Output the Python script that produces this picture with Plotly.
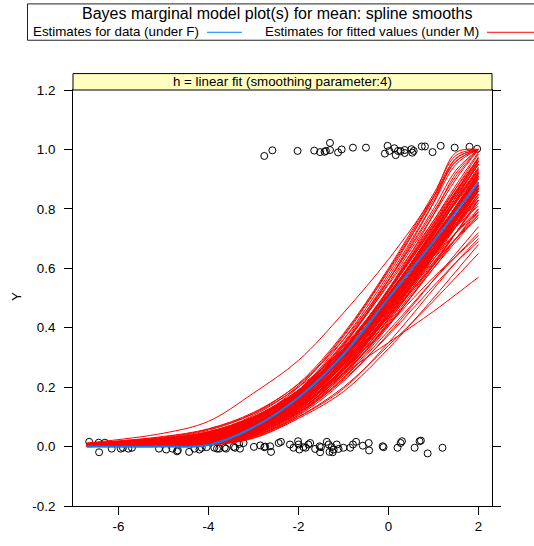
import plotly.graph_objects as go

# ---------------- data ----------------
X_KNOTS = [-6.7, -5, -4, -3, -2, -1, 0, 1, 1.5, 2]

RED_CURVES = [
    [0.000, 0.002, 0.005, 0.045, 0.135, 0.280, 0.470, 0.700, 0.830, 0.960],
    [0.002, 0.008, 0.018, 0.065, 0.155, 0.300, 0.490, 0.700, 0.810, 0.920],
    [0.005, 0.015, 0.030, 0.080, 0.170, 0.310, 0.490, 0.680, 0.780, 0.880],
    [0.008, 0.025, 0.045, 0.100, 0.190, 0.320, 0.490, 0.660, 0.750, 0.830],
    [0.010, 0.030, 0.055, 0.110, 0.200, 0.330, 0.500, 0.660, 0.740, 0.810],
    [0.000, 0.003, 0.008, 0.040, 0.115, 0.240, 0.410, 0.600, 0.700, 0.800],
    [0.001, 0.005, 0.012, 0.050, 0.130, 0.260, 0.440, 0.640, 0.750, 0.860],
    [0.003, 0.010, 0.022, 0.070, 0.160, 0.310, 0.510, 0.730, 0.850, 0.960],
    [0.004, 0.012, 0.025, 0.075, 0.175, 0.340, 0.550, 0.780, 0.900, 1.000],
    [0.006, 0.020, 0.040, 0.095, 0.200, 0.370, 0.590, 0.830, 0.960, 1.000],
    [0.002, 0.007, 0.015, 0.055, 0.140, 0.280, 0.460, 0.660, 0.760, 0.860],
    [0.000, 0.002, 0.006, 0.038, 0.120, 0.250, 0.430, 0.630, 0.740, 0.850],
    [0.001, 0.004, 0.010, 0.045, 0.125, 0.260, 0.450, 0.670, 0.790, 0.900],
    [0.004, 0.014, 0.028, 0.072, 0.155, 0.280, 0.440, 0.610, 0.700, 0.790],
    [0.007, 0.022, 0.042, 0.090, 0.175, 0.300, 0.460, 0.630, 0.720, 0.800],
    [0.009, 0.028, 0.050, 0.100, 0.185, 0.310, 0.470, 0.640, 0.720, 0.790],
    [0.003, 0.009, 0.020, 0.062, 0.150, 0.295, 0.490, 0.710, 0.830, 0.940],
    [0.001, 0.005, 0.013, 0.052, 0.140, 0.290, 0.490, 0.720, 0.840, 0.950],
    [0.002, 0.006, 0.014, 0.050, 0.128, 0.255, 0.425, 0.620, 0.720, 0.820],
    [0.000, 0.003, 0.007, 0.035, 0.105, 0.220, 0.380, 0.560, 0.650, 0.740],
    [0.000, 0.002, 0.005, 0.030, 0.100, 0.200, 0.340, 0.490, 0.570, 0.650],
    [0.001, 0.004, 0.009, 0.040, 0.115, 0.230, 0.390, 0.560, 0.640, 0.720],
    [0.005, 0.017, 0.034, 0.085, 0.180, 0.330, 0.530, 0.760, 0.880, 0.990],
    [0.006, 0.018, 0.035, 0.088, 0.185, 0.345, 0.560, 0.800, 0.930, 1.000],
    [0.003, 0.011, 0.024, 0.068, 0.158, 0.305, 0.500, 0.720, 0.840, 0.950],
    [0.004, 0.013, 0.026, 0.070, 0.150, 0.275, 0.435, 0.610, 0.700, 0.780],
    [0.008, 0.024, 0.044, 0.095, 0.180, 0.310, 0.480, 0.660, 0.750, 0.840],
    [0.011, 0.034, 0.060, 0.115, 0.210, 0.360, 0.560, 0.790, 0.910, 1.000],
    [0.002, 0.008, 0.017, 0.058, 0.145, 0.290, 0.480, 0.690, 0.800, 0.910],
    [0.001, 0.006, 0.014, 0.054, 0.138, 0.275, 0.460, 0.680, 0.800, 0.920],
    [0.000, 0.002, 0.006, 0.036, 0.112, 0.240, 0.420, 0.640, 0.760, 0.880],
    [0.005, 0.016, 0.032, 0.080, 0.165, 0.300, 0.470, 0.650, 0.740, 0.830],
    [0.007, 0.021, 0.040, 0.092, 0.190, 0.345, 0.545, 0.760, 0.870, 0.970],
    [0.003, 0.010, 0.021, 0.064, 0.150, 0.290, 0.475, 0.680, 0.780, 0.880],
    [0.002, 0.007, 0.016, 0.056, 0.135, 0.265, 0.440, 0.640, 0.740, 0.840],
    [0.009, 0.027, 0.048, 0.098, 0.180, 0.300, 0.455, 0.620, 0.700, 0.770],
    [0.004, 0.012, 0.025, 0.073, 0.165, 0.320, 0.520, 0.740, 0.860, 0.970],
    [0.006, 0.019, 0.037, 0.090, 0.190, 0.350, 0.570, 0.820, 0.950, 1.000],
    [0.001, 0.005, 0.011, 0.046, 0.122, 0.245, 0.410, 0.600, 0.690, 0.780],
    [0.003, 0.009, 0.019, 0.060, 0.142, 0.275, 0.450, 0.650, 0.750, 0.850],
    [0.001, 0.006, 0.014, 0.052, 0.135, 0.245, 0.350, 0.455, 0.512, 0.570],
    [0.012, 0.045, 0.085, 0.180, 0.290, 0.450, 0.630, 0.840, 0.960, 1.000],
    [0.005, 0.016, 0.032, 0.085, 0.190, 0.360, 0.580, 0.840, 0.990, 1.000],
    [0.003, 0.010, 0.022, 0.070, 0.170, 0.340, 0.560, 0.820, 0.970, 1.000],
    [0.002, 0.008, 0.018, 0.062, 0.160, 0.320, 0.530, 0.780, 0.920, 1.000],
    [0.004, 0.013, 0.027, 0.076, 0.168, 0.315, 0.505, 0.715, 0.825, 0.930],
    [0.006, 0.018, 0.036, 0.086, 0.175, 0.315, 0.495, 0.690, 0.790, 0.890],
    [0.002, 0.006, 0.013, 0.049, 0.128, 0.262, 0.445, 0.655, 0.765, 0.875],
    [0.000, 0.003, 0.008, 0.041, 0.118, 0.248, 0.430, 0.645, 0.760, 0.870],
    [0.005, 0.015, 0.030, 0.078, 0.162, 0.295, 0.470, 0.665, 0.765, 0.860],
    [0.007, 0.023, 0.043, 0.094, 0.182, 0.320, 0.500, 0.700, 0.800, 0.900],
    [0.003, 0.011, 0.023, 0.066, 0.152, 0.293, 0.480, 0.695, 0.810, 0.920],
    [0.001, 0.004, 0.010, 0.044, 0.120, 0.245, 0.415, 0.615, 0.720, 0.830],
    [0.004, 0.012, 0.026, 0.074, 0.160, 0.300, 0.485, 0.690, 0.800, 0.905],
    [0.008, 0.026, 0.047, 0.099, 0.188, 0.330, 0.515, 0.720, 0.825, 0.925],
    [0.002, 0.007, 0.015, 0.055, 0.138, 0.276, 0.465, 0.685, 0.805, 0.925],
    [0.000, 0.002, 0.005, 0.033, 0.108, 0.232, 0.405, 0.610, 0.720, 0.830],
    [0.006, 0.020, 0.038, 0.088, 0.172, 0.305, 0.480, 0.670, 0.770, 0.870],
    [0.003, 0.008, 0.018, 0.058, 0.140, 0.272, 0.450, 0.660, 0.770, 0.885],
    [0.005, 0.014, 0.029, 0.077, 0.170, 0.325, 0.530, 0.750, 0.860, 0.965],
    [0.001, 0.004, 0.010, 0.042, 0.112, 0.225, 0.375, 0.540, 0.620, 0.690],
    [0.004, 0.012, 0.025, 0.068, 0.145, 0.260, 0.410, 0.570, 0.640, 0.710],
    [0.002, 0.007, 0.016, 0.058, 0.142, 0.282, 0.470, 0.690, 0.805, 0.915],
    [0.004, 0.013, 0.027, 0.074, 0.163, 0.310, 0.505, 0.725, 0.840, 0.950],
    [0.006, 0.019, 0.037, 0.087, 0.178, 0.322, 0.512, 0.725, 0.830, 0.935],
    [0.001, 0.005, 0.012, 0.048, 0.130, 0.268, 0.455, 0.670, 0.780, 0.890],
    [0.003, 0.010, 0.021, 0.063, 0.148, 0.286, 0.468, 0.672, 0.775, 0.875],
    [0.005, 0.016, 0.031, 0.079, 0.166, 0.308, 0.493, 0.700, 0.805, 0.905],
    [0.007, 0.022, 0.041, 0.091, 0.183, 0.330, 0.525, 0.745, 0.855, 0.960],
    [0.002, 0.008, 0.017, 0.060, 0.150, 0.302, 0.505, 0.735, 0.855, 0.975],
    [0.000, 0.003, 0.008, 0.040, 0.120, 0.255, 0.440, 0.655, 0.770, 0.885],
    [0.004, 0.013, 0.026, 0.071, 0.154, 0.288, 0.462, 0.660, 0.760, 0.860],
    [0.006, 0.018, 0.036, 0.085, 0.170, 0.302, 0.475, 0.670, 0.768, 0.865],
    [0.003, 0.010, 0.022, 0.066, 0.156, 0.303, 0.495, 0.712, 0.825, 0.935],
    [0.008, 0.025, 0.046, 0.097, 0.186, 0.328, 0.512, 0.718, 0.820, 0.920],
    [0.001, 0.005, 0.011, 0.047, 0.127, 0.258, 0.438, 0.645, 0.752, 0.860],
    [0.005, 0.015, 0.030, 0.080, 0.173, 0.325, 0.525, 0.752, 0.870, 0.985],
    [0.002, 0.007, 0.015, 0.054, 0.134, 0.266, 0.448, 0.655, 0.760, 0.865],
    [0.004, 0.012, 0.024, 0.070, 0.158, 0.298, 0.482, 0.690, 0.795, 0.900],
    [0.007, 0.021, 0.039, 0.089, 0.176, 0.312, 0.488, 0.683, 0.780, 0.878],
    [0.003, 0.009, 0.019, 0.061, 0.146, 0.283, 0.464, 0.668, 0.772, 0.878],
    [0.001, 0.004, 0.010, 0.046, 0.126, 0.258, 0.440, 0.650, 0.760, 0.868],
    [0.005, 0.017, 0.033, 0.082, 0.168, 0.304, 0.480, 0.676, 0.776, 0.876],
    [0.009, 0.028, 0.050, 0.100, 0.190, 0.336, 0.525, 0.740, 0.848, 0.950],
    [0.002, 0.006, 0.014, 0.052, 0.132, 0.262, 0.440, 0.642, 0.745, 0.848],
    [0.004, 0.014, 0.028, 0.076, 0.165, 0.313, 0.508, 0.728, 0.840, 0.950],
    [0.006, 0.020, 0.038, 0.088, 0.176, 0.318, 0.500, 0.705, 0.808, 0.910],
    [0.000, 0.002, 0.004, 0.028, 0.095, 0.185, 0.330, 0.500, 0.590, 0.680],
    [0.001, 0.004, 0.008, 0.034, 0.100, 0.195, 0.350, 0.530, 0.620, 0.700],
    [0.008, 0.026, 0.048, 0.105, 0.205, 0.375, 0.595, 0.840, 0.970, 1.000],
    [0.010, 0.032, 0.058, 0.112, 0.212, 0.380, 0.600, 0.850, 0.980, 1.000],
]

BLUE_CURVE = [0.000, 0.000, 0.005, 0.065, 0.165, 0.310, 0.500, 0.690, 0.790, 0.890]

HI_X = [-2.76, -2.58, -2.02, -1.65, -1.52, -1.42, -1.39, -1.30, -1.30, -1.12,
        -1.04, -0.79, -0.50, -0.08, -0.02, 0.02, 0.13, 0.16, 0.21, 0.27,
        0.36, 0.36, 0.51, 0.53, 0.56, 0.74, 0.81, 0.98, 1.16, 1.47, 1.80, 1.97]
HI_Y = [0.978, 0.997, 0.995, 0.996, 0.991, 0.992, 0.995, 1.022, 0.998, 0.990,
        1.000, 1.006, 1.006, 0.986, 1.012, 0.995, 1.004, 0.981, 0.995, 0.994,
        0.998, 0.988, 1.001, 0.989, 0.995, 1.010, 1.010, 0.991, 1.012, 1.006, 1.009, 1.002]

LO_X = [-6.65, -6.43, -6.44, -6.30, -6.15, -5.95, -5.90, -5.78, -5.70, -5.10,
        -4.94, -4.80, -4.70, -4.68, -4.43, -4.31, -4.20, -4.15, -4.04, -3.87,
        -3.81, -3.76, -3.64, -3.61, -3.44, -3.41, -3.32, -3.30, -3.22, -2.99,
        -2.85, -2.76, -2.74, -2.63, -2.61, -2.44, -2.39, -2.19, -2.11, -2.01,
        -2.00, -1.98, -1.89, -1.84, -1.78, -1.74, -1.63, -1.53, -1.52, -1.50,
        -1.37, -1.33, -1.31, -1.26, -1.24, -1.22, -1.15, -1.11, -1.00, -0.85,
        -0.79, -0.72, -0.57, -0.44, -0.43, -0.13, -0.11, 0.20, 0.27, 0.30,
        0.58, 0.69, 0.72, 0.87, 1.20]
LO_Y = [0.016, -0.019, 0.013, 0.013, -0.007, -0.007, -0.004, -0.007, -0.004, -0.007,
        -0.010, -0.007, -0.016, -0.013, -0.018, -0.007, -0.010, -0.004, -0.002, -0.004,
        -0.007, -0.007, -0.004, -0.007, -0.001, -0.004, 0.009, -0.007, 0.012, -0.001,
        0.004, -0.002, 0.000, 0.001, -0.018, 0.012, 0.016, 0.007, -0.004, 0.018,
        0.007, -0.010, -0.002, -0.004, 0.007, 0.012, -0.008, 0.001, -0.019, -0.002,
        0.016, 0.007, -0.018, -0.002, -0.019, -0.010, 0.007, -0.008, -0.004, -0.004,
        0.007, 0.016, 0.003, 0.012, -0.013, 0.001, -0.002, -0.004, 0.012, 0.018,
        -0.004, 0.018, 0.020, -0.023, -0.004]

X_TICKS = [-6, -4, -2, 0, 2]
X_TICKTEXT = ["-6", "-4", "-2", "0", "2"]
Y_TICKS = [-0.2, 0.0, 0.2, 0.4, 0.6, 0.8, 1.0, 1.2]
Y_TICKTEXT = ["-0.2", "0.0", "0.2", "0.4", "0.6", "0.8", "1.0", "1.2"]

TITLE = "Bayes marginal model plot(s) for mean: spline smooths"
LEG_F = "Estimates for data (under F)"
LEG_M = "Estimates for fitted values (under M)"
STRIP = "h = linear fit (smoothing parameter:4)"

# ---------------- layout geometry (pixels) ----------------
W, H = 534, 546
L, R, T, B = 73, 492, 90, 508


def xp(px):
    return (px - L) / (R - L)


def yp(py):
    return (B - py) / (B - T)


FONT = "Liberation Sans, Arial, sans-serif"

fig = go.Figure()

fig.add_trace(go.Scatter(
    x=LO_X + HI_X, y=LO_Y + HI_Y, mode="markers",
    marker=dict(symbol="circle-open", size=7, color="black", line=dict(width=1, color="black")),
    hoverinfo="skip"))

for c in RED_CURVES:
    fig.add_trace(go.Scatter(x=X_KNOTS, y=c, mode="lines",
                             line=dict(color="#ff0000", width=1, shape="spline", smoothing=1),
                             hoverinfo="skip"))

fig.add_trace(go.Scatter(x=X_KNOTS, y=BLUE_CURVE, mode="lines",
                         line=dict(color="#0080ff", width=2, shape="spline", smoothing=1),
                         hoverinfo="skip"))

shapes = [
    dict(type="rect", xref="paper", yref="paper", x0=0, x1=1, y0=1, y1=yp(73.5),
         fillcolor="#ffffc0", line=dict(color="black", width=1), layer="above"),
    dict(type="rect", xref="paper", yref="paper", x0=xp(27.5), x1=xp(560), y0=yp(3.5), y1=yp(40),
         fillcolor="rgba(0,0,0,0)", line=dict(color="#222222", width=1)),
    dict(type="line", xref="paper", yref="paper", x0=xp(207), x1=xp(242), y0=yp(32), y1=yp(32),
         line=dict(color="#0080ff", width=1)),
    dict(type="line", xref="paper", yref="paper", x0=xp(487), x1=xp(560), y0=yp(32), y1=yp(32),
         line=dict(color="#ff0000", width=1)),
]

annotations = [
    dict(text=TITLE, xref="paper", yref="paper", x=xp(277), y=yp(13.5), xanchor="center",
         yanchor="middle", showarrow=False, font=dict(size=16, color="black", family=FONT)),
    dict(text=LEG_F, xref="paper", yref="paper", x=xp(31), y=yp(31.5), xanchor="left",
         yanchor="middle", showarrow=False, font=dict(size=13.33, color="black", family=FONT)),
    dict(text=LEG_M, xref="paper", yref="paper", x=xp(262.5), y=yp(31.5), xanchor="left",
         yanchor="middle", showarrow=False, font=dict(size=13.33, color="black", family=FONT)),
    dict(text=STRIP, xref="paper", yref="paper", x=0.5, y=yp(81.5), xanchor="center",
         yanchor="middle", showarrow=False, font=dict(size=13.33, color="black", family=FONT)),
    dict(text="Y", xref="paper", yref="paper", x=xp(16), y=yp(298), xanchor="center",
         yanchor="middle", textangle=-90, showarrow=False,
         font=dict(size=13.33, color="black", family=FONT)),
]

fig.update_layout(
    width=W, height=H,
    margin=dict(l=L, r=W - R, t=T, b=H - B, pad=0),
    paper_bgcolor="white", plot_bgcolor="white",
    showlegend=False,
    font=dict(family=FONT, size=13.33, color="black"),
    shapes=shapes, annotations=annotations,
    xaxis=dict(range=[-7.01, 2.30], tickvals=X_TICKS, ticktext=X_TICKTEXT,
               showgrid=False, zeroline=False, showline=True, linecolor="black", linewidth=1,
               mirror=True, ticks="outside", ticklen=8, tickcolor="black", tickwidth=1,
               tickfont=dict(size=13.33, color="black", family=FONT)),
    yaxis=dict(range=[-0.2, 1.2], tickvals=Y_TICKS, ticktext=Y_TICKTEXT,
               showgrid=False, zeroline=False, showline=True, linecolor="black", linewidth=1,
               mirror="ticks", ticks="outside", ticklen=8, tickcolor="black", tickwidth=1,
               ticklabelstandoff=6,
               tickfont=dict(size=13.33, color="black", family=FONT)),
)

fig.write_html("out.html", config={"displayModeBar": False},
               post_script="document.body.style.margin='0';")
